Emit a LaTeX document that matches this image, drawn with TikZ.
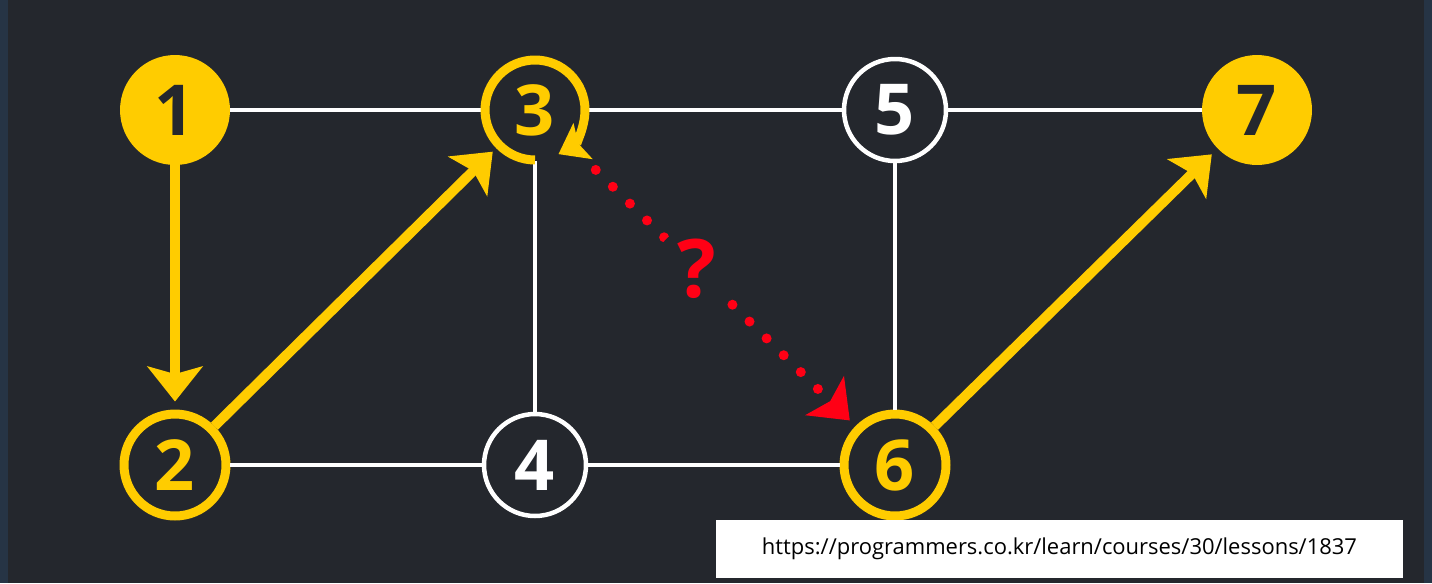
\documentclass[tikz,border=0pt]{standalone}
\usepackage{fontspec}
\usepackage{xcolor}
\usepackage{tikz}
\usetikzlibrary{arrows.meta}
\newfontfamily\numfont{Open Sans}
\definecolor{darkbg}{RGB}{36,39,45}
\definecolor{sidebar}{RGB}{38,52,69}
\definecolor{pathyellow}{RGB}{255,204,0}
\definecolor{guessred}{RGB}{255,0,21}

\tikzset{
    vertex/.style={circle, inner sep=0pt, minimum size=2.04cm, fill=darkbg,
        font=\fontsize{40}{40}\numfont\bfseries},
    solidvertex/.style={vertex, minimum size=2.2cm, fill=pathyellow, text=darkbg},
    goldvertex/.style={vertex, draw=pathyellow, line width=0.18cm, text=pathyellow},
    whitevertex/.style={vertex, draw=white, line width=0.09cm, text=white},
    edge/.style={white, line width=0.08cm},
    visit/.style={pathyellow, line width=0.2cm, shorten >=0.16cm,
        -{Stealth[length=0.7cm, width=1.1cm, inset=0.15cm]}},
    guess/.style={guessred, line width=0.2cm, line cap=round, dash pattern=on 0pt off 0.48cm,
        shorten <=0.68cm, shorten >=0.16cm, -{Stealth[length=0.7cm, width=1.08cm, inset=0.15cm]}},
    qmark/.style={circle, inner sep=3pt, fill=darkbg, text=guessred,
        font=\fontsize{46}{46}\numfont\bfseries}
}

\begin{document}
\begin{tikzpicture}[x=0.02cm, y=0.02cm]
    % Background
    \fill[darkbg] (0,0) rectangle (1432,583);
    \fill[sidebar] (0,0) rectangle (8,583);
    \fill[sidebar] (1424,0) rectangle (1432,583);
    \useasboundingbox (0,0) rectangle (1432,583);

    % Vertices
    \node[solidvertex] (n1) at (175,473) {1};
    \node[goldvertex] (n2) at (175,118) {2};
    \node[vertex, text=pathyellow] (n3) at (535,473) {3};
    \node[whitevertex] (n4) at (535,118) {4};
    \node[whitevertex] (n5) at (895,473) {5};
    \node[goldvertex] (n6) at (895,118) {6};
    \node[solidvertex] (n7) at (1257,473) {7};

    % Edges
    \foreach \a/\b in {n1/n3, n3/n5, n5/n7, n2/n4, n4/n6, n3/n4, n5/n6}
        \draw[edge] (\a) -- (\b);

    % Visited path
    \draw[visit] (n1) -- (n2);
    \draw[visit] (n2) -- (n3);
    \draw[visit] (n6) -- (n7);
    \draw[visit, line width=0.18cm, shorten >=0pt, -{Stealth[length=0.55cm, width=0.8cm, inset=0.1cm]}]
        (n3.center) ++(270:1cm) arc[start angle=270, end angle=-62, radius=1cm];

    % Unknown step
    \draw[guess] (n3) -- node[qmark, pos=0.44] {?} (n6);

    % Source
    \node[fill=white, text=black, minimum width=13.74cm, minimum height=1.16cm, inner sep=0pt,
        font=\fontsize{12.5}{12.5}\numfont] (src) at (1059.5,34)
        {https://programmers.co.kr/learn/courses/30/lessons/1837};
\end{tikzpicture}
\end{document}
